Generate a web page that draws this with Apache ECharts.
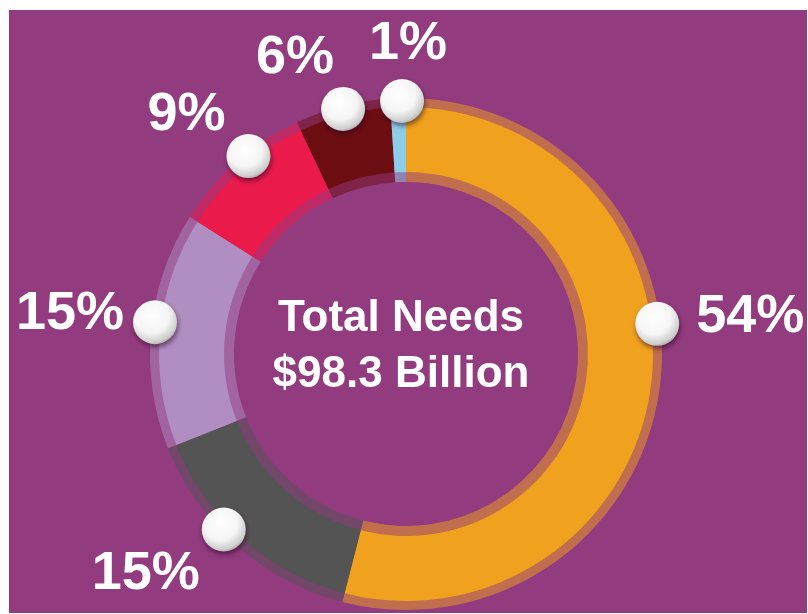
<!DOCTYPE html>
<html>
	<head>
		<title>Total Needs</title>
		<meta charset="UTF-8">
		<script src="https://cdn.jsdelivr.net/npm/echarts@6/dist/echarts.min.js" type="text/javascript"></script>
		<style>
			body { margin: 0; background: #ffffff; }
			#chart { width: 808px; height: 614px; }
		</style>
	</head>
	<body>
		<div id="chart"></div>
		<script type="text/javascript">
			// shares of total needs, clockwise from 12 o'clock
			var names = ['A', 'B', 'C', 'D', 'E', 'F'];
			var shares = [54, 15, 15, 9, 6, 1];
			var colors = ['#F0A21E', '#545454', '#B18EC1', '#EA1A4B', '#6C0D12', '#8DCDE8'];
			var centerLines = ['Total Needs', '$98.3 Billion'];

			// label tweaks: marker shift along the ring (percent) and text offset from the marker
			var dotShift = [-3.9, 1.3, 0.5, 0.8, 0, 0.25];
			var textOffset = [[93, -7], [-78, 45], [-85, -8], [-62, -41], [-48, -51], [6, -57]];

			var cx = 406, cy = 354;

			var pieData = names.map(function (n, i) {
				return { name: n, value: shares[i], itemStyle: { color: colors[i] } };
			});

			// marker positions: middle of each slice on the outer edge
			var total = shares.reduce(function (a, b) { return a + b; }, 0);
			var acc = 0;
			var dots = shares.map(function (v, i) {
				var mid = (acc + v / 2) / total * 100 + dotShift[i];
				acc += v;
				return {
					value: [253, mid],
					label: { offset: textOffset[i] }
				};
			});

			var chart = echarts.init(document.getElementById('chart'));
			chart.setOption({
				animation: false,
				graphic: [{
					type: 'rect',
					z: -10,
					shape: { x: 9, y: 10, width: 798, height: 603 },
					style: { fill: '#923B7E' }
				}, {
					type: 'text',
					z: 10,
					style: {
						text: centerLines.join('\n'),
						x: 401,
						y: 347,
						align: 'center',
						verticalAlign: 'middle',
						fill: '#ffffff',
						fontFamily: 'Liberation Sans',
						fontWeight: 'bold',
						fontSize: 44,
						lineHeight: 56
					}
				}],
				polar: { center: [cx, cy], radius: [0, 256] },
				angleAxis: { type: 'value', min: 0, max: 100, startAngle: 90, clockwise: true, show: false },
				radiusAxis: { type: 'value', min: 0, max: 256, show: false },
				series: [{
					// soft rim around the ring
					type: 'pie',
					center: [cx, cy],
					radius: [172, 256],
					startAngle: 90,
					silent: true,
					label: { show: false },
					labelLine: { show: false },
					itemStyle: { opacity: 0.5, borderWidth: 0 },
					data: pieData
				}, {
					type: 'pie',
					center: [cx, cy],
					radius: [182, 247],
					startAngle: 90,
					silent: true,
					label: { show: false },
					labelLine: { show: false },
					itemStyle: { borderWidth: 0 },
					data: pieData
				}, {
					type: 'scatter',
					coordinateSystem: 'polar',
					symbol: 'circle',
					symbolSize: 44,
					z: 5,
					itemStyle: {
						opacity: 1,
						color: {
							type: 'radial', x: 0.42, y: 0.35, r: 0.72,
							colorStops: [
								{ offset: 0, color: '#ffffff' },
								{ offset: 0.55, color: '#f5f5f5' },
								{ offset: 0.85, color: '#cccccc' },
								{ offset: 1, color: '#8e8e8e' }
							]
						},
						shadowBlur: 5,
						shadowOffsetX: 1,
						shadowOffsetY: 3,
						shadowColor: 'rgba(40,0,30,0.55)'
					},
					label: {
						show: true,
						position: 'inside',
						formatter: function (p) { return shares[p.dataIndex] + '%'; },
						color: '#ffffff',
						fontFamily: 'Liberation Sans',
						fontWeight: 'bold',
						fontSize: 54,
						lineHeight: 54
					},
					data: dots
				}]
			});
		</script>
	</body>
</html>
